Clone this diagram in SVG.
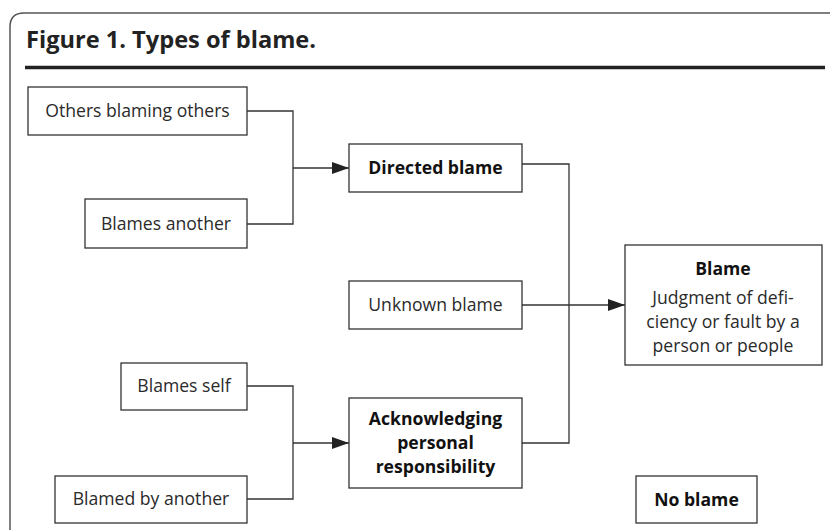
<svg xmlns="http://www.w3.org/2000/svg" width="830" height="530" viewBox="0 0 830 530">
<style>
  .box { fill: #fff; stroke: #333; stroke-width: 1.3; }
  .t { font-family: "Open Sans", "Liberation Sans", sans-serif; font-size: 17.6px; fill: #2a2a2a; text-anchor: middle; }
  .b { font-weight: bold; fill: #111; }
  .c { fill: none; stroke: #333; stroke-width: 1.3; }
</style>
<defs>
  <marker id="arr" markerWidth="17" markerHeight="12" refX="17" refY="6" orient="auto" markerUnits="userSpaceOnUse">
    <path d="M0,0 L17,6 L0,12 Z" fill="#222"/>
  </marker>
</defs>
<rect width="830" height="530" fill="#fff"/>
<path d="M10,530 V27 Q10,13 24,13 H830" fill="none" stroke="#555" stroke-width="1.5"/>
<text x="26" y="48" font-family="Open Sans, Liberation Sans, sans-serif" font-size="23.6" font-weight="bold" fill="#222">Figure 1. Types of blame.</text>
<line x1="25" y1="67.5" x2="825" y2="67.5" stroke="#222" stroke-width="3.5"/>

<g id="connectors">
  <polyline class="c" points="247,111 293,111 293,224 247,224"/>
  <line class="c" x1="293" y1="168" x2="349" y2="168" marker-end="url(#arr)"/>
  <polyline class="c" points="247,386 293,386 293,499 247,499"/>
  <line class="c" x1="293" y1="443" x2="349" y2="443" marker-end="url(#arr)"/>
  <polyline class="c" points="522,164 569,164 569,443 522,443"/>
  <line class="c" x1="522" y1="305" x2="625" y2="305" marker-end="url(#arr)"/>
</g>

<g id="others-blaming-others">
  <rect class="box" x="28" y="87" width="219" height="48"/>
  <text class="t" x="137.5" y="117">Others blaming others</text>
</g>
<g id="blames-another">
  <rect class="box" x="85" y="199" width="162" height="49"/>
  <text class="t" x="166" y="230">Blames another</text>
</g>
<g id="directed-blame">
  <rect class="box" x="349" y="144" width="173" height="48"/>
  <text class="t b" x="435.5" y="174">Directed blame</text>
</g>
<g id="unknown-blame">
  <rect class="box" x="349" y="281" width="173" height="48"/>
  <text class="t" x="435.5" y="311">Unknown blame</text>
</g>
<g id="blames-self">
  <rect class="box" x="121" y="363" width="126" height="47"/>
  <text class="t" x="184" y="392">Blames self</text>
</g>
<g id="blamed-by-another">
  <rect class="box" x="55" y="476" width="192" height="47"/>
  <text class="t" x="151" y="505">Blamed by another</text>
</g>
<g id="acknowledging">
  <rect class="box" x="349" y="398" width="173" height="90"/>
  <text class="t b" x="435.5" y="425">Acknowledging</text>
  <text class="t b" x="435.5" y="449">personal</text>
  <text class="t b" x="435.5" y="473">responsibility</text>
</g>
<g id="blame">
  <rect class="box" x="625" y="245" width="197" height="120"/>
  <text class="t b" x="723" y="275">Blame</text>
  <text class="t" x="723" y="304">Judgment of defi-</text>
  <text class="t" x="723" y="328">ciency or fault by a</text>
  <text class="t" x="723" y="352">person or people</text>
</g>
<g id="no-blame">
  <rect class="box" x="636" y="476" width="121" height="47"/>
  <text class="t b" x="696.5" y="506">No blame</text>
</g>
</svg>
